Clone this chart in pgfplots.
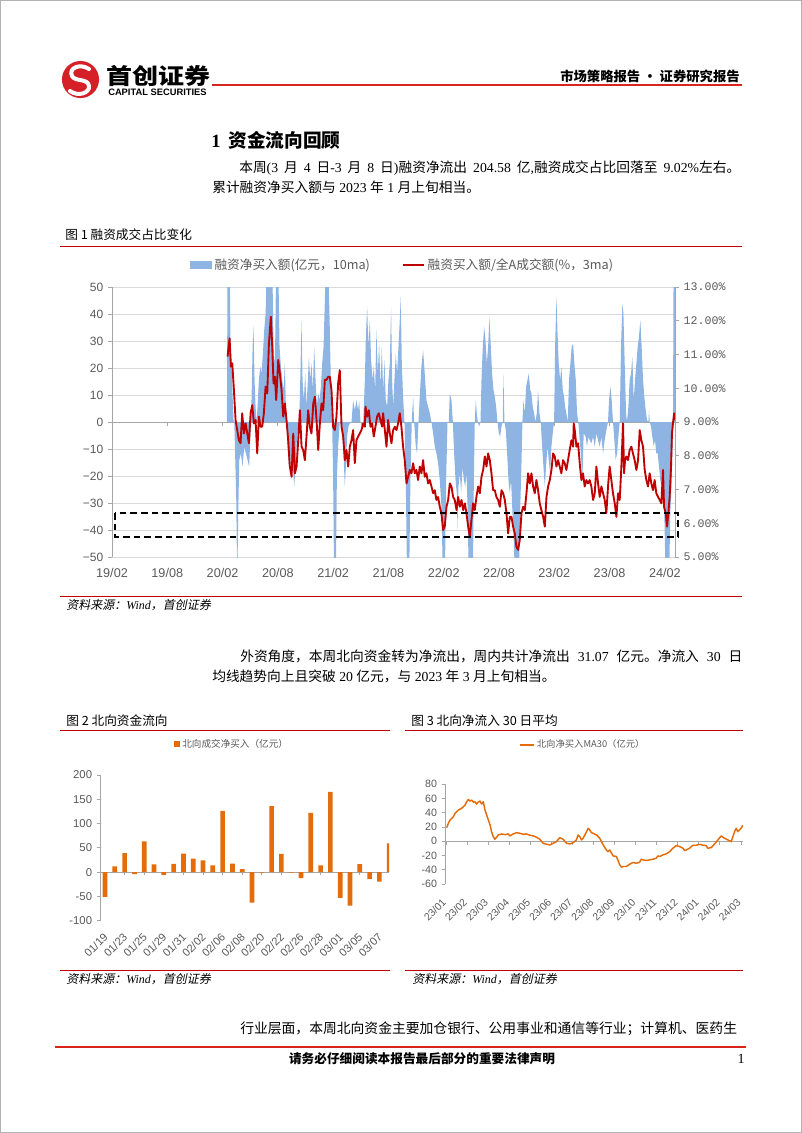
\documentclass[border=0pt]{standalone}
\usepackage{fontspec}
\usepackage{pgfplots}
\pgfplotsset{compat=1.18}
\setmainfont{Liberation Serif}
\newfontfamily\cjk{Noto Sans CJK SC}
\newfontfamily\cjkit[FakeSlant=0.2]{Noto Sans CJK SC}
\newfontfamily\arial{Liberation Sans}
\newfontfamily\mono{Liberation Mono}
\newcommand\fs[1]{\fontsize{#1}{#1}\selectfont}
\definecolor{areablue}{RGB}{141,180,226}
\definecolor{linered}{RGB}{192,0,0}
\definecolor{orng}{RGB}{228,108,10}
\definecolor{rulered}{RGB}{192,0,0}
\definecolor{headred}{RGB}{218,37,29}
\definecolor{logored}{RGB}{214,32,39}
\definecolor{labgray}{RGB}{89,89,89}
\definecolor{gridgray}{RGB}{217,217,217}
\definecolor{axgray}{RGB}{166,166,166}
\begin{document}
\begin{tikzpicture}
\useasboundingbox (0,0) rectangle (601.5pt,-849.75pt);
\begin{scope}[x=0.75pt,y=-0.75pt]
\draw[gray!60, line width=0.75pt] (0.5,0.5) rectangle (801.5,1132.5);
% logo
\fill[logored] (80.5,79.5) circle[radius=13.9pt];
\draw[white, line width=3pt, line cap=round] (89,69) .. controls (80,63) and (68,68) .. (72,76) .. controls (75,82) and (88,78) .. (89,86) .. controls (90,93) and (78,97) .. (70,91);
\node[anchor=west, inner sep=0, yscale=0.85, transform shape] at (106,76) {\cjk\bfseries\fs{19.5}首创证券};
\node[anchor=west, inner sep=0] at (108,92.5) {\arial\bfseries\fs{7}CAPITAL SECURITIES};
\draw[headred, line width=1.5pt] (212,85) -- (742,85);
\node[anchor=east, inner sep=0] at (740,76) {\cjk\bfseries\fs{10}市场策略报告 · 证券研究报告};
% section
\node[anchor=west, inner sep=0] at (211,140) {\fs{14}\textbf{1}\hspace{6pt}{\cjk\bfseries 资金流向回顾}};
\node[anchor=west, inner sep=0] at (239,168.5) {\makebox[375.75pt][s]{\fs{10.3}{\cjk 本周}(3 {\cjk 月} 4 {\cjk 日}-3 {\cjk 月} 8 {\cjk 日}){\cjk 融资净流出} 204.58 {\cjk 亿},{\cjk 融资成交占比回落至} 9.02\%{\cjk 左右。}}};
\node[anchor=west, inner sep=0] at (212,187) {\fs{10.3}{\cjk 累计融资净买入额与} 2023 {\cjk 年} 1 {\cjk 月上旬相当。}};
% figure 1 caption
\node[anchor=west, inner sep=0] at (65,235) {\cjk\fs{9.5}图 1 融资成交占比变化};
\draw[rulered, line width=0.75pt] (60,246) -- (742,246);
\draw[rulered, line width=0.75pt] (60,596) -- (742,596);
\node[anchor=west, inner sep=0] at (66,605) {\fs{9}{\cjkit 资料来源：}\textit{Wind}{\cjkit ，首创证券}};
% paragraph 2
\node[anchor=west, inner sep=0] at (240,656) {\makebox[376.5pt][s]{\fs{10.3}{\cjk 外资角度，本周北向资金转为净流出，周内共计净流出} 31.07 {\cjk 亿元。净流入} 30 {\cjk 日}}};
\node[anchor=west, inner sep=0] at (212,676) {\fs{10.3}{\cjk 均线趋势向上且突破} 20 {\cjk 亿元，与} 2023 {\cjk 年} 3 {\cjk 月上旬相当。}};
% figure 2/3 captions
\node[anchor=west, inner sep=0] at (66,721) {\cjk\fs{9.5}图 2 北向资金流向};
\draw[rulered, line width=0.75pt] (60,730) -- (390,730);
\node[anchor=west, inner sep=0] at (411,721) {\cjk\fs{9.5}图 3 北向净流入 30 日平均};
\draw[rulered, line width=0.75pt] (405,730) -- (743,730);
\draw[rulered, line width=0.75pt] (60,970) -- (390,970);
\draw[rulered, line width=0.75pt] (405,970) -- (743,970);
\node[anchor=west, inner sep=0] at (66,979) {\fs{9}{\cjkit 资料来源：}\textit{Wind}{\cjkit ，首创证券}};
\node[anchor=west, inner sep=0] at (412,979) {\fs{9}{\cjkit 资料来源：}\textit{Wind}{\cjkit ，首创证券}};
% body bottom
\node[anchor=west, inner sep=0] at (240,1029) {\cjk\fs{10.35}行业层面，本周北向资金主要加仓银行、公用事业和通信等行业；计算机、医药生};
\draw[headred, line width=2.2pt] (55,1047) -- (746,1047);
\node[inner sep=0] at (422,1058.5) {\cjk\bfseries\fs{9.5}请务必仔细阅读本报告最后部分的重要法律声明};
\node[inner sep=0] at (741,1058.5) {\fs{10.5}1};
\end{scope}

% ---------- Chart 1: left axis (area) ----------
\begin{axis}[
  at={(84pt,-417.75pt)}, anchor=south west,
  scale only axis, width=422.25pt, height=202.5pt,
  xmin=0, xmax=61.1, ymin=-50, ymax=50,
  axis y line*=left, axis x line*=middle,
  hide obscured x ticks=false, hide obscured y ticks=false,
  axis line style={axgray, line width=0.75pt},
  ytick={-50,-40,...,50},
  yticklabels={−50,−40,−30,−20,−10,0,10,20,30,40,50},
  xtick={0,6,...,60},
  xticklabels={19/02,19/08,20/02,20/08,21/02,21/08,22/02,22/08,23/02,23/08,24/02},
  ymajorgrids, grid style={gridgray, line width=0.75pt},
  tick align=outside, major tick length=3pt, tick style={axgray, line width=0.6pt},
  yticklabel style={font=\arial\fs{9}, text=labgray},
  xticklabel style={font=\arial\fs{9.5}, text=labgray, yshift=-103pt},
]
\addplot[fill=areablue, draw=none] coordinates {
(12.47,0)(12.54,60)(12.76,60)(12.87,27.9)(12.98,20.5)(13.09,9.4)(13.19,0.7)(13.27,0)(13.34,-9.1)(13.48,-27.7)(13.59,-60)(13.70,-33.8)(13.81,-14.1)(13.99,-11.6)(14.17,-16.5)(14.35,-9.1)(14.53,-11.6)(14.71,-14.1)(14.89,-16.5)(15.00,-6.7)(15.07,0)(15.15,9.4)(15.26,27.9)(15.36,35.3)(15.47,15.6)(15.58,5.7)(15.69,0)(15.80,5.7)(15.94,15.6)(16.09,20.5)(16.23,18.0)(16.38,25.4)(16.52,34.1)(16.67,40.2)(16.81,60)(17.39,60)(17.53,27.9)(17.68,20.5)(17.82,60)(18.04,60)(18.18,27.9)(18.33,20.5)(18.47,15.6)(18.62,11.9)(18.76,21.7)(18.87,5.7)(18.98,0)(19.05,-9.1)(19.20,-16.5)(19.34,-11.6)(19.49,-21.5)(19.63,-16.5)(19.77,-24.0)(19.92,-16.5)(20.06,-6.7)(20.21,-1.7)(20.32,0)(20.43,15.6)(20.57,37.8)(20.68,15.6)(20.82,8.1)(20.97,18.0)(21.11,5.7)(21.26,15.6)(21.37,24.2)(21.51,15.6)(21.65,21.7)(21.80,11.9)(21.94,27.9)(22.09,15.6)(22.23,5.7)(22.38,10.6)(22.52,8.1)(22.67,13.1)(22.81,21.7)(22.96,27.9)(23.10,45.2)(23.21,60)(23.46,60)
(23.64,34.1)(23.78,9.4)(23.89,0)(24.00,-21.5)(24.11,-60)(24.29,-60)(24.40,-21.5)(24.54,-9.1)(24.72,0)(24.91,-1.7)(25.09,-9.1)(25.27,-24.0)(25.38,-16.5)(25.52,-5.4)(25.66,-1.7)(25.81,-0.5)(25.99,0)(26.17,8.1)(26.35,4.4)(26.53,8.1)(26.71,4.4)(26.82,8.1)(26.97,0)(27.11,-1.7)(27.26,0)(27.44,15.6)(27.54,30.4)(27.69,42.7)(27.83,27.9)(27.98,37.8)(28.12,23.0)(28.27,15.6)(28.41,20.5)(28.56,11.9)(28.70,34.1)(28.85,18.0)(28.99,29.1)(29.14,13.1)(29.28,27.9)(29.42,11.9)(29.57,23.0)(29.71,8.1)(29.86,5.7)(30.00,15.6)(30.15,21.7)(30.29,42.7)(30.40,15.6)(30.51,5.7)(30.65,15.6)(30.80,25.4)(30.94,18.0)(31.09,27.9)(31.23,37.8)(31.34,46.4)(31.45,21.7)(31.59,9.4)(31.74,0)(31.88,-21.5)(32.03,-60)(32.24,-60)(32.39,-21.5)(32.53,0)(32.68,9.4)(32.79,0)(32.97,-9.1)(33.11,-11.6)(33.26,0)(33.40,9.4)(33.58,20.5)(33.76,26.7)(33.94,18.0)(34.12,8.1)(34.31,5.7)(34.49,3.2)(34.67,0)(34.85,-4.2)(35.03,-9.1)(35.21,-11.6)(35.39,-15.3)(35.57,-21.5)(35.75,-31.4)(35.93,-60)
(36.12,-60)(36.26,-21.5)(36.41,0)(36.55,0)(36.66,10.6)(36.84,8.1)(36.99,0)(37.13,-11.6)(37.28,-21.5)(37.42,-26.4)(37.49,-40.0)(37.60,-24.0)(37.75,-19.0)(37.89,-26.4)(38.04,-16.5)(38.18,-21.5)(38.33,-24.0)(38.47,-19.0)(38.61,-33.8)(38.72,-60)(39.16,-60)(39.27,-21.5)(39.37,0)(39.48,8.1)(39.59,3.2)(39.70,0)(39.84,-1.7)(39.99,0)(40.10,15.6)(40.24,27.9)(40.39,35.3)(40.53,30.4)(40.68,21.7)(40.82,27.9)(40.96,39.0)(41.11,27.9)(41.25,18.0)(41.40,11.9)(41.54,9.4)(41.69,5.7)(41.83,0)(41.98,-4.2)(42.12,-5.4)(42.27,-1.7)(42.41,0)(42.48,18.0)(42.59,0)(42.74,-3.0)(42.88,-11.6)(43.03,-21.5)(43.17,-26.4)(43.31,-21.5)(43.46,-33.8)(43.60,-43.7)(43.75,-60)(44.15,-60)(44.29,-33.8)(44.44,-15.3)(44.54,0)(44.65,8.1)(44.80,3.2)(44.94,13.1)(45.09,15.6)(45.23,18.0)(45.38,11.9)(45.52,10.6)(45.66,5.7)(45.81,3.2)(45.95,0)(46.10,3.2)(46.24,11.9)(46.39,3.2)(46.53,0)(46.68,-9.1)(46.82,-16.5)(46.97,-24.0)(47.11,-16.5)(47.26,-9.1)(47.40,-14.1)(47.54,-19.0)(47.69,-9.1)(47.83,-4.2)(47.98,0)(48.09,27.9)(48.23,46.4)(48.34,34.1)(48.48,21.7)(48.63,15.6)(48.77,20.5)(48.92,11.9)(49.06,9.4)
(49.17,5.7)(49.31,3.2)(49.46,0)(49.60,15.6)(49.75,21.7)(49.89,27.9)(50.04,29.1)(50.18,21.7)(50.33,15.6)(50.47,3.2)(50.61,0)(50.76,-6.7)(50.90,-12.8)(51.05,-21.5)(51.19,-4.2)(51.41,-5.5)(51.55,-9.1)(51.70,-5.5)(51.84,-6.7)(52.02,-7.9)(52.21,-5.5)(52.39,-9.1)(52.57,-4.2)(52.75,-6.7)(52.93,-9.1)(53.11,-5.5)(53.29,-11.6)(53.47,-6.7)(53.65,-3.0)(53.83,0)(53.94,8.1)(54.09,13.1)(54.23,8.1)(54.37,0)(54.52,-6.7)(54.66,-14.1)(54.81,-11.6)(54.95,-5.5)(55.10,0)(55.24,27.9)(55.39,43.9)(55.50,40.2)(55.64,21.7)(55.79,3.2)(55.89,0)(56.04,5.7)(56.18,15.6)(56.33,18.0)(56.47,24.2)(56.62,8.1)(56.76,15.6)(56.91,21.7)(57.05,27.9)(57.19,31.6)(57.34,37.8)(57.48,27.9)(57.63,15.6)(57.77,9.4)(57.92,4.4)(58.06,0.7)(58.21,0)(58.28,4.4)(58.35,0)(58.50,-1.7)(58.64,-5.5)(58.79,-9.1)(58.93,-6.7)(59.07,-11.6)(59.22,-11.6)(59.36,-16.5)(59.51,-21.5)(59.65,-24.0)(59.80,-28.9)(59.94,-33.8)(60.09,-60)(60.45,-60)(60.59,-33.8)(60.74,-21.5)(60.88,0)(60.95,60)(61.2,60)
} \closedcycle;
\end{axis}

% ---------- Chart 1: right axis (ratio line) ----------
\begin{axis}[
  at={(84pt,-417.75pt)}, anchor=south west,
  scale only axis, width=422.25pt, height=202.5pt,
  xmin=0, xmax=61.1, ymin=5, ymax=13,
  axis y line*=right, axis x line=none,
  axis line style={axgray, line width=0.75pt},
  ytick={5,6,...,13},
  yticklabels={5.00\%,6.00\%,7.00\%,8.00\%,9.00\%,10.00\%,11.00\%,12.00\%,13.00\%},
  tick align=outside, major tick length=3pt, tick style={axgray, line width=0.6pt},
  yticklabel style={font=\mono\fs{8.7}, text=labgray},
  legend style={at={(0.517,1.0815)}, anchor=center, draw=none, fill=none, font=\cjk\fs{9.5}, text=labgray, legend columns=2, /tikz/every even column/.append style={column sep=22pt}},
]
\addlegendimage{legend image code/.code={\fill[areablue] (0pt,-2.6pt) rectangle (15.75pt,2.6pt);}}
\addlegendentry{融资净买入额(亿元，10ma)}
\addplot[linered, line width=1.4pt, line join=round, legend image code/.code={\draw[linered, line width=1.5pt] (0pt,0pt) -- (15.75pt,0pt);}] coordinates {
(12.54,10.94)(12.76,11.48)(12.91,10.64)(13.05,10.74)(13.23,9.95)(13.41,9.06)(13.59,8.76)(13.77,8.46)(13.95,8.37)(14.13,9.26)(14.32,8.66)(14.50,8.96)(14.68,8.66)(14.86,8.37)(15.04,9.26)(15.22,9.50)(15.40,8.96)(15.58,9.06)(15.76,8.07)(15.94,9.16)(16.12,8.86)(16.30,8.86)(16.48,9.26)(16.67,10.05)(16.85,9.85)(17.03,11.33)(17.24,12.12)(17.39,11.23)(17.53,10.14)(17.68,10.34)(17.82,9.65)(18.04,10.84)(18.22,10.44)(18.40,9.95)(18.58,9.16)(18.76,9.55)(18.94,9.06)(19.12,8.46)(19.30,7.68)(19.49,7.38)(19.67,8.66)(19.85,7.48)(20.03,7.68)(20.21,8.46)(20.39,9.35)(20.57,8.27)(20.75,8.17)(20.93,7.87)(21.11,8.57)(21.29,9.35)(21.47,8.86)(21.65,8.66)(21.84,9.55)(22.02,9.75)(22.20,9.06)(22.38,8.17)(22.56,8.96)(22.74,9.55)(22.92,9.35)(23.10,10.25)(23.28,10.25)(23.46,10.34)
(23.64,10.34)(23.82,9.95)(24.00,8.86)(24.18,8.76)(24.36,9.16)(24.54,10.14)(24.72,10.54)(24.91,8.86)(25.09,8.57)(25.27,7.87)(25.45,8.17)(25.63,7.68)(25.81,8.27)(25.99,8.46)(26.17,8.76)(26.35,7.78)(26.53,8.46)(26.71,8.57)(26.89,8.66)(27.07,8.76)(27.26,8.96)(27.44,8.86)(27.51,9.46)(27.69,9.16)(27.87,9.35)(28.05,8.86)(28.23,8.96)(28.41,8.57)(28.59,8.86)(28.77,9.16)(28.95,9.26)(29.13,9.06)(29.32,8.86)(29.42,9.26)(29.61,8.76)(29.79,8.27)(29.97,9.06)(30.15,8.66)(30.33,8.37)(30.51,8.76)(30.69,8.86)(30.87,8.76)(31.05,8.96)(31.23,9.26)(31.41,8.86)(31.59,8.27)(31.77,7.87)(31.96,7.18)(32.14,7.38)(32.32,7.58)(32.50,7.48)(32.68,7.78)(32.86,7.48)(33.04,7.58)(33.22,7.28)(33.40,7.68)(33.58,7.48)(33.76,7.87)(33.94,7.38)(34.12,7.48)(34.31,7.18)(34.49,7.28)(34.67,7.09)(34.85,6.89)(35.03,6.98)(35.21,6.69)(35.39,6.78)(35.57,6.49)(35.75,6.30)(35.93,5.80)(36.11,5.90)
(36.30,6.49)(36.48,6.69)(36.66,7.18)(36.84,7.09)(37.02,6.78)(37.20,6.69)(37.39,6.39)(37.57,6.78)(37.75,6.49)(37.93,6.69)(38.11,6.39)(38.29,6.59)(38.47,6.30)(38.65,5.90)(38.83,5.60)(39.01,6.10)(39.19,6.59)(39.37,6.39)(39.55,6.78)(39.74,7.09)(39.92,6.89)(40.10,7.38)(40.28,7.58)(40.46,7.98)(40.64,7.68)(40.82,8.07)(41.00,7.87)(41.18,7.48)(41.36,6.98)(41.54,6.98)(41.72,6.78)(41.90,6.69)(42.09,6.49)(42.27,6.98)(42.45,6.89)(42.63,6.69)(42.81,6.30)(42.99,5.70)(43.17,6.19)(43.35,6.19)(43.53,5.90)(43.71,5.70)(43.89,5.30)(44.07,5.21)(44.25,5.50)(44.44,6.30)(44.62,6.49)(44.80,6.39)(44.98,6.89)(45.16,7.48)(45.34,7.18)(45.52,7.48)(45.70,7.09)(45.88,6.89)(46.06,7.28)(46.24,6.98)(46.42,6.59)(46.60,6.39)(46.79,6.19)(46.97,5.90)(47.15,6.78)(47.33,7.09)(47.51,7.28)(47.69,7.58)(47.87,8.07)(48.05,7.98)(48.23,7.68)(48.41,7.87)
(48.59,7.68)(48.77,7.48)(48.95,7.87)(49.13,7.78)(49.31,7.58)(49.49,7.87)(49.67,8.17)(49.86,8.46)(50.04,8.27)(50.11,8.96)(50.22,8.76)(50.40,8.27)(50.58,8.37)(50.76,7.78)(50.94,7.28)(51.12,7.48)(51.30,7.09)(51.48,7.28)(51.66,7.18)(51.84,7.28)(52.02,7.09)(52.21,6.69)(52.39,6.89)(52.57,7.68)(52.75,7.18)(52.93,6.78)(53.11,7.09)(53.29,6.89)(53.47,6.69)(53.65,6.30)(53.83,7.09)(54.01,7.68)(54.19,7.28)(54.37,6.89)(54.56,6.59)(54.74,6.19)(54.92,6.89)(55.10,6.69)(55.28,7.68)(55.46,8.96)(55.57,7.48)(55.68,7.87)(55.82,7.98)(56.00,7.87)(56.18,8.17)(56.36,8.27)(56.54,8.07)(56.72,7.87)(56.91,7.58)(57.09,7.87)(57.27,8.76)(57.45,8.46)(57.63,8.27)(57.81,7.58)(57.99,7.28)(58.17,7.09)(58.35,7.48)(58.53,7.18)(58.71,6.98)(58.89,7.28)(59.07,6.89)(59.26,6.78)(59.44,6.69)(59.62,6.59)(59.80,7.58)(59.91,6.49)(60.09,6.30)(60.23,5.90)(60.38,6.30)(60.52,6.78)(60.67,7.68)(60.77,8.66)(60.88,8.96)(61.00,9.26)(61.06,9.06)
};
\addlegendentry{融资买入额/全A成交额(\%，3ma)}
\end{axis}

% ---------- Chart 2: northbound daily ----------
\begin{axis}[
  at={(75.1pt,-690.5pt)}, anchor=south west,
  scale only axis, width=216.8pt, height=109.3pt,
  xmin=0.5, xmax=30, ymin=-100, ymax=200,
  axis y line*=left, axis x line*=middle,
  hide obscured x ticks=false, hide obscured y ticks=false,
  axis line style={axgray, line width=0.75pt},
  ytick={-100,-50,...,200}, yticklabels={-100,-50,0,50,100,150,200},
  xtick={1,3,...,29},
  xticklabels={01/19,01/23,01/25,01/29,01/31,02/02,02/06,02/08,02/20,02/22,02/26,02/28,03/01,03/05,03/07},
  tick align=outside, major tick length=2.5pt, tick style={axgray, line width=0.6pt},
  yticklabel style={font=\arial\fs{8.5}, text=labgray},
  xticklabel style={font=\arial\fs{8.3}, text=labgray, yshift=-42.5pt, xshift=3pt, rotate=45, anchor=east},
  legend style={at={(0.457,1.213)}, anchor=center, draw=none, fill=none, font=\cjk\fs{7.2}, text=labgray},
]
\addplot[ybar, bar width=3.5pt, fill=orng, draw=none, legend image code/.code={\fill[orng] (0pt,-2.2pt) rectangle (4.4pt,2.2pt);}] coordinates {
(1,-51)(2,11.6)(3,38.9)(4,-4)(5,63.4)(6,15.7)(7,-5.5)(8,17)(9,38.2)(10,28)(11,23.9)(12,13.6)(13,126)(14,17.7)(15,6.1)(16,-62.8)(17,-1)(18,135.7)(19,37.5)(20,-1)(21,-12.3)(22,122)(23,13.6)(24,165)(25,-53.2)(26,-69)(27,16.4)(28,-14.3)(29,-19.8)(30,59)
};
\addlegendentry{北向成交净买入（亿元）}
\end{axis}

% ---------- Chart 3: northbound MA30 ----------
\begin{axis}[
  at={(333.75pt,-663pt)}, anchor=south west,
  scale only axis, width=223.5pt, height=74.8pt,
  xmin=-0.05, xmax=14.1, ymin=-60, ymax=80,
  axis y line*=left, axis x line*=middle,
  hide obscured x ticks=false, hide obscured y ticks=false,
  axis line style={axgray, line width=0.75pt},
  ytick={-60,-40,...,80}, yticklabels={-60,-40,-20,0,20,40,60,80},
  xtick={0,...,14},
  xticklabels={23/01,23/02,23/03,23/04,23/05,23/06,23/07,23/08,23/09,23/10,23/11,23/12,24/01,24/02,24/03},
  tick align=outside, major tick length=2.5pt, tick style={axgray, line width=0.6pt},
  yticklabel style={font=\arial\fs{8}, text=labgray},
  xticklabel style={font=\arial\fs{7.8}, text=labgray, yshift=-39.5pt, xshift=1pt, rotate=45, anchor=east},
  legend style={at={(0.463,1.394)}, anchor=center, draw=none, fill=none, font=\cjk\fs{7}, text=labgray},
]
\addplot[orng, line width=1.1pt, line join=round, legend image code/.code={\draw[orng, line width=1.1pt] (0pt,0pt) -- (10.5pt,0pt);}] coordinates {
(0.03,19.1)(0.11,25.2)(0.19,29.8)(0.35,34.5)(0.43,39.2)(0.58,43.8)(0.74,46.2)(0.90,50.8)(0.98,55.5)(1.06,58.7)(1.14,56.4)(1.22,57.8)(1.30,55.0)(1.37,55.5)(1.45,52.2)(1.53,55.0)(1.61,56.4)(1.69,52.2)(1.77,55.5)(1.85,43.8)(1.93,36.8)(2.01,29.8)(2.09,22.8)(2.16,13.5)(2.24,6.5)(2.32,2.8)(2.40,5.6)(2.48,8.9)(2.64,10.3)(2.80,9.3)(2.95,10.3)(3.03,7.5)(3.19,10.3)(3.35,12.1)(3.51,11.2)(3.67,9.8)(3.82,10.3)(3.98,8.4)(4.14,7.5)(4.30,5.6)(4.45,2.8)(4.61,-2.8)(4.77,-4.2)(4.93,-5.1)(5.09,-2.8)(5.24,-0.5)(5.40,5.1)(5.56,2.8)(5.72,-2.8)(5.88,-3.7)(6.04,-1.9)(6.19,1.9)(6.27,8.9)(6.35,6.5)(6.43,1.9)(6.51,4.2)(6.59,8.9)(6.67,13.5)(6.75,18.2)(6.82,15.9)(6.90,12.1)(6.98,11.2)(7.14,8.9)(7.30,4.2)(7.38,-0.5)(7.46,-5.1)(7.61,-12.1)(7.69,-14.5)(7.77,-12.1)(7.93,-20.5)(8.09,-21.4)(8.25,-33.1)(8.33,-36.4)(8.40,-35.4)(8.56,-35.4)(8.72,-32.2)(8.88,-29.8)(9.04,-30.8)(9.19,-29.4)(9.27,-25.2)(9.35,-26.1)(9.51,-27.0)(9.67,-26.1)(9.83,-25.2)(9.98,-23.8)(10.06,-20.5)(10.14,-21.4)(10.30,-19.1)(10.46,-17.7)(10.62,-14.5)(10.77,-9.8)(10.93,-6.1)(11.09,-7.5)(11.25,-9.8)(11.33,-13.1)(11.41,-12.1)(11.56,-9.8)(11.72,-5.6)(11.88,-5.6)(12.04,-4.2)(12.20,-5.6)(12.35,-6.1)(12.43,-9.8)(12.59,-8.9)(12.75,-3.7)(12.91,1.9)(13.06,7.5)(13.22,4.2)(13.38,1.9)(13.54,-0.5)(13.62,6.5)(13.70,13.5)(13.78,18.2)(13.85,13.5)(13.93,15.9)(14.01,18.2)(14.09,22.4)
};
\addlegendentry{北向净买入MA30（亿元）}
\end{axis}

% dashed highlight box
\begin{scope}[x=0.75pt,y=-0.75pt]
\draw[black, line width=1.3pt, dash pattern=on 5pt off 3pt] (115,513) rectangle (678,537);
\end{scope}
\end{tikzpicture}
\end{document}
